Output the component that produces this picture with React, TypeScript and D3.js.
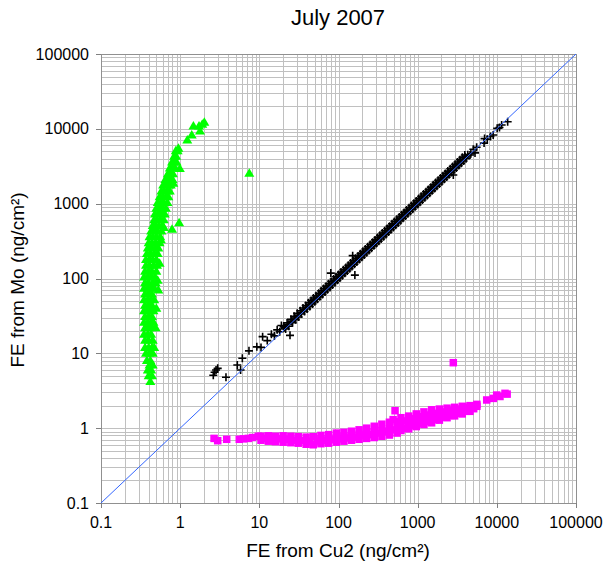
import React from "react";
import * as d3 from "d3";

// Chart text
const chartTitle = "July 2007";
const xAxisTitle = "FE from Cu2 (ng/cm²)";
const yAxisTitle = "FE from Mo (ng/cm²)";
const axisTicks = [0.1, 1, 10, 100, 1000, 10000, 100000];
const axisTickLabels = ["0.1", "1", "10", "100", "1000", "10000", "100000"];

// FE from Mo vs FE from Cu2 (black crosses)
const moVsCu2: [number, number][] = [
  [2.62, 5.1], [2.72, 5.6], [2.84, 6.0], [2.98, 6.3], [3.79, 4.78], [5.27, 6.98], [5.8, 6.0],
  [6.1, 8.6], [7.4, 10.8], [9.3, 12.2], [10.5, 12.0], [11.0, 16.7], [12.6, 14.8], [14.2, 18.0],
  [15.5, 17.1], [16.8, 20.6], [18.1, 19.4], [19.0, 23.5], [24.4, 17.4],
  [20.3, 22.9], [21.5, 21.1], [22.4, 25.5], [23.6, 23.0], [25.1, 28.6], [26.3, 25.7], [27.5, 31.2],
  [28.8, 28.1], [30.1, 34.3], [31.4, 30.6], [32.9, 37.0], [34.0, 33.5], [35.6, 40.3], [37.2, 36.2],
  [38.5, 43.6], [40.1, 39.2], [41.8, 47.5], [43.4, 42.3], [45.1, 51.0], [46.9, 45.8], [48.3, 55.0],
  [50.2, 49.0], [52.0, 58.9], [54.1, 52.8], [56.3, 63.6], [58.0, 56.9], [60.4, 68.4], [62.7, 61.1],
  [64.9, 73.5], [67.5, 65.9], [69.8, 79.0], [72.4, 70.6], [75.0, 85.0], [77.9, 76.0], [80.0, 118],
  [80.8, 91.4], [83.6, 81.7], [86.9, 98.4], [90.2, 88.0], [93.1, 105.4], [96.8, 94.5], [100.2, 113.5],
  [104.0, 101.4], [107.6, 121.8], [111.9, 109.2], [115.4, 130.7], [120.2, 117.3], [124.1, 140.5],
  [128.9, 125.8], [133.0, 150.6], [138.1, 134.8], [142.6, 161.4], [148.0, 144.5], [151, 202],
  [153.2, 173.4], [158.9, 155.1], [161, 111], [164.5, 186.2], [170.6, 166.5], [176.6, 200.0],
  [183.2, 178.8], [189.7, 214.8], [196.5, 191.8], [203.6, 230.5], [211.0, 205.9], [218.4, 247.3],
  [226.3, 220.9], [234.4, 265.3], [242.8, 237.0], [251.5, 284.7], [260.6, 254.3], [269.9, 305.6],
  [279.6, 272.9], [289.6, 327.8], [300.0, 292.8], [310.8, 351.9], [322.0, 314.3], [333.5, 377.5],
  [345.5, 337.2], [357.9, 405.2], [370.8, 361.9], [384.1, 434.8], [397.9, 388.4], [412.2, 466.6],
  [427.0, 416.8], [442.3, 500.7], [458.2, 447.2], [474.6, 537.3], [491.7, 479.9], [509.4, 576.6],
  [527.7, 515.0], [546.6, 618.8], [566.2, 552.6], [586.6, 664.0], [607.6, 593.0], [629.5, 712.6],
  [652.1, 636.4], [675.5, 764.7], [699.8, 683.0], [724.9, 820.6], [751.0, 733.0], [778.0, 880.7],
  [806.0, 786.7], [834.9, 945.1], [865.0, 844.2], [896.0, 1014], [928.3, 906.0], [961.6, 1089],
  [996.2, 972.3], [1032, 1168], [1069, 1043], [1107, 1253], [1147, 1119], [1188, 1345], [1231, 1201],
  [1275, 1443], [1321, 1289], [1368, 1549], [1417, 1383], [1468, 1662], [1521, 1484], [1575, 1783],
  [1632, 1593], [1690, 1913], [1751, 1709], [1814, 2053], [1879, 1834], [1946, 2203], [2016, 1968],
  [2089, 2365], [2164, 2112], [2241, 2537], [2322, 2266], [2405, 2722], [2491, 2431], [2581, 2922],
  [2673, 2609], [2769, 3134], [2820, 2415], [2869, 2800], [2972, 3364], [3079, 3005], [3189, 3610],
  [3304, 3225], [3422, 3874], [3545, 3460], [3673, 4158], [3805, 3714], [3941, 4461], [4083, 3985],
  [4300, 4500], [4580, 4470], [4700, 4650], [5050, 5330], [5300, 4770], [5560, 5670], [6900, 6450],
  [7000, 7400], [7570, 7250], [8300, 7900], [9000, 8280], [10100, 10150], [10800, 10400],
  [11500, 11250], [13700, 12450],
  [20.9, 21.9], [23.0, 24.3], [25.7, 26.9], [28.1, 29.6], [30.7, 32.3], [33.4, 35.0], [36.4, 38.3],
  [39.3, 41.2], [42.6, 44.9], [46.0, 48.1], [49.2, 51.8], [53.0, 55.6], [57.1, 60.2], [61.5, 64.4],
  [66.2, 69.8], [71.1, 74.4], [76.4, 80.5], [82.2, 86.1], [88.5, 93.2], [95.0, 99.5], [102.1, 107.5],
  [109.7, 114.9], [117.8, 124.0], [126.5, 132.6], [135.5, 142.5], [145.3, 152.3], [155.9, 164.0],
  [167.5, 175.4], [179.9, 189.2], [193.1, 202.3], [207.3, 218.0], [222.3, 232.9], [238.6, 250.9],
  [255.9, 268.1], [274.6, 288.7], [294.7, 308.7], [316.3, 332.5], [339.6, 355.8], [364.3, 383.0],
  [390.9, 409.6], [419.5, 441.1], [450.2, 471.6], [483.1, 508.0], [518.5, 543.2], [556.4, 585.1],
  [597.0, 625.4], [640.7, 673.7], [687.5, 720.2], [737.9, 775.9], [792.0, 829.7], [849.9, 893.7],
  [912.1, 955.5], [978.9, 1029], [1050, 1100], [1127, 1185], [1210, 1267], [1298, 1365], [1393, 1459],
  [1495, 1572], [1603, 1680], [1721, 1809], [1847, 1935], [1981, 2083], [2126, 2228], [2281, 2399],
  [2448, 2565], [2627, 2762], [2819, 2953], [3025, 3180], [3246, 3400], [3483, 3662], [3739, 3917],
  [4012, 4218],
];

// Points with low FE from Cu2 (green triangles)
const lowCu2: [number, number][] = [
  [0.42, 4.2], [0.40, 5], [0.44, 5], [0.39, 6], [0.43, 6], [0.41, 7], [0.45, 7], [0.38, 8], [0.42, 8],
  [0.37, 10], [0.41, 10], [0.45, 10], [0.36, 12], [0.40, 12], [0.44, 12], [0.47, 12],
  [0.36, 15], [0.40, 15], [0.45, 15], [0.35, 18], [0.39, 18], [0.43, 18],
  [0.36, 22], [0.40, 22], [0.44, 22], [0.49, 22], [0.35, 26], [0.39, 26], [0.43, 26], [0.46, 26],
  [0.36, 31], [0.40, 31], [0.44, 31], [0.35, 37], [0.38, 37], [0.42, 37], [0.46, 37],
  [0.36, 44], [0.40, 44], [0.44, 44], [0.50, 40], [0.35, 52], [0.39, 52], [0.43, 52], [0.47, 52],
  [0.36, 62], [0.40, 62], [0.44, 62], [0.53, 70], [0.35, 74], [0.39, 74], [0.43, 74], [0.47, 74],
  [0.36, 88], [0.40, 88], [0.45, 88], [0.49, 88], [0.52, 95], [0.35, 105], [0.39, 105], [0.43, 105], [0.48, 105],
  [0.36, 125], [0.40, 125], [0.44, 125], [0.50, 125], [0.37, 150], [0.41, 150], [0.46, 150], [0.51, 150],
  [0.55, 160], [0.37, 180], [0.41, 180], [0.45, 180], [0.50, 180], [0.38, 215], [0.42, 215], [0.47, 215], [0.52, 215],
  [0.39, 255], [0.43, 255], [0.48, 255], [0.53, 255], [0.40, 300], [0.44, 300], [0.49, 300], [0.55, 300],
  [0.57, 330], [0.41, 360], [0.45, 360], [0.50, 360], [0.56, 360], [0.43, 430], [0.47, 430], [0.52, 430], [0.58, 430],
  [0.62, 480], [0.45, 510], [0.49, 510], [0.54, 510], [0.60, 510], [0.47, 610], [0.51, 610], [0.56, 610], [0.62, 610],
  [0.48, 730], [0.53, 730], [0.58, 730], [0.64, 730], [0.50, 870], [0.55, 870], [0.60, 870], [0.66, 870],
  [0.52, 1040], [0.57, 1040], [0.62, 1040], [0.69, 1040], [0.55, 1240], [0.60, 1240], [0.66, 1240], [0.71, 1240],
  [0.58, 1480], [0.63, 1480], [0.69, 1480], [0.74, 1480], [0.61, 1770], [0.66, 1770], [0.72, 1770], [0.76, 1770],
  [0.82, 1870], [0.65, 2110], [0.70, 2110], [0.75, 2110], [0.80, 2110], [0.70, 2520], [0.75, 2520], [0.81, 2520],
  [0.74, 3000], [0.80, 3000], [0.86, 3000], [0.99, 2960], [0.79, 3600], [0.85, 3600], [0.90, 3600],
  [0.84, 4300], [0.89, 4300], [0.88, 5100], [0.93, 5100], [0.95, 5500],
  [0.97, 557], [0.79, 454], [7.47, 2550], [1.23, 7100], [1.40, 8280], [1.47, 10900], [1.73, 10900],
  [1.78, 9360], [1.90, 11500], [2.02, 12200],
];

// Points with low FE from Mo (magenta squares)
const lowMo: [number, number][] = [
  [2.68, 0.73], [2.98, 0.68], [3.87, 0.71], [5.58, 0.71], [6.3, 0.72], [7.25, 0.73], [8.2, 0.75], [9.7, 0.78],
  [10.5, 0.69], [10.5, 0.78], [11.8, 0.73], [13, 0.67], [13, 0.79], [14.5, 0.72], [16, 0.66], [16, 0.78],
  [18, 0.72], [20, 0.65], [20, 0.79], [22.5, 0.71], [25, 0.64], [25, 0.78], [28, 0.69], [31, 0.63], [31, 0.77],
  [35, 0.68], [39, 0.61], [39, 0.76], [43, 0.67], [48, 0.60], [48, 0.77], [54, 0.67],
  [60, 0.62], [60, 0.72], [60, 0.80], [67, 0.68], [75, 0.63], [75, 0.73], [75, 0.82], [84, 0.70],
  [94, 0.65], [94, 0.75], [94, 0.86], [105, 0.72], [117, 0.67], [117, 0.78], [117, 0.88], [131, 0.74],
  [146, 0.69], [146, 0.80], [146, 0.91], [163, 0.76], [182, 0.71], [182, 0.83], [182, 0.95], [203, 0.79],
  [227, 0.73], [227, 0.86], [227, 1.0], [253, 0.82], [283, 0.75], [283, 0.89], [283, 1.06], [316, 0.86],
  [353, 0.78], [353, 0.93], [353, 1.13], [394, 0.90], [440, 0.81], [440, 0.98], [440, 1.2], [490, 0.95],
  [490, 1.3], [518, 1.71], [550, 0.86], [550, 1.05], [550, 1.22], [615, 0.93], [615, 1.13], [615, 1.38],
  [690, 1.0], [690, 1.25], [770, 0.98], [770, 1.2], [770, 1.45], [860, 1.08], [860, 1.34],
  [960, 1.05], [960, 1.28], [960, 1.55], [1070, 1.15], [1070, 1.42], [1200, 1.12], [1200, 1.36], [1200, 1.65],
  [1340, 1.22], [1340, 1.5], [1500, 1.18], [1500, 1.45], [1500, 1.76], [1680, 1.3], [1680, 1.58],
  [1880, 1.28], [1880, 1.52], [1880, 1.8], [2100, 1.4], [2100, 1.65], [2350, 1.38], [2350, 1.6], [2350, 1.85],
  [2620, 1.48], [2620, 1.72], [2820, 7.5], [2930, 1.46], [2930, 1.68], [2930, 1.9], [3280, 1.58], [3280, 1.8],
  [3660, 1.55], [3660, 1.75], [3660, 1.96], [4100, 1.68], [4100, 1.9], [4580, 1.68], [4580, 2.0],
  [5100, 1.82], [5100, 1.98], [5600, 1.96], [5600, 2.08],
  [7450, 2.38], [9020, 2.5], [9960, 2.77], [10960, 2.65], [12680, 2.92], [13500, 2.85],
];

// 1:1 reference line
const unityLine: [number, number][] = [[0.1, 0.1], [100000, 100000]];

const FONT = "'Liberation Sans', Arial, sans-serif";

export default function App() {
  const width = 605;
  const height = 575;
  const plot = { left: 101, right: 576, top: 54, bottom: 503 };

  const x = d3.scaleLog().domain([0.1, 100000]).range([plot.left, plot.right]);
  const y = d3.scaleLog().domain([0.1, 100000]).range([plot.bottom, plot.top]);

  const gridX = x.ticks();
  const gridY = y.ticks();
  const crisp = (v: number) => Math.round(v) + 0.5;
  const line = d3.line<[number, number]>().x((d) => x(d[0])).y((d) => y(d[1]));

  return (
    <svg
      width={width}
      height={height}
      style={{ position: "absolute", left: 0, top: 0, background: "#fff" }}
      fontFamily={FONT}
    >
      <rect x={0} y={0} width={width} height={height} fill="#fff" />

      {/* gridlines */}
      <g stroke="#c0c0c0" strokeWidth={1}>
        {gridX.map((v, i) => (
          <line key={"gx" + i} x1={crisp(x(v))} x2={crisp(x(v))} y1={plot.top} y2={plot.bottom} />
        ))}
        {gridY.map((v, i) => (
          <line key={"gy" + i} y1={crisp(y(v))} y2={crisp(y(v))} x1={plot.left} x2={plot.right} />
        ))}
      </g>

      {/* plot frame */}
      <rect
        x={crisp(plot.left)}
        y={crisp(plot.top)}
        width={Math.round(plot.right - plot.left)}
        height={Math.round(plot.bottom - plot.top)}
        fill="none"
        stroke="#909090"
        strokeWidth={1}
      />

      {/* axis ticks */}
      <g stroke="#808080" strokeWidth={1}>
        {axisTicks.map((v, i) => (
          <line key={"ty" + i} x1={plot.left - 5} x2={plot.left} y1={crisp(y(v))} y2={crisp(y(v))} />
        ))}
        {axisTicks.map((v, i) => (
          <line key={"tx" + i} y1={plot.bottom} y2={plot.bottom + 5} x1={crisp(x(v))} x2={crisp(x(v))} />
        ))}
      </g>

      {/* black crosses */}
      <g stroke="#000" strokeWidth={1.6} fill="none">
        {moVsCu2.map((d, i) => (
          <path
            key={"c" + i}
            transform={`translate(${x(d[0])},${y(d[1])})`}
            d="M-4,0H4M0,-4V4"
          />
        ))}
      </g>

      {/* green triangles */}
      <g fill="#00ff00">
        {lowCu2.map((d, i) => (
          <path
            key={"t" + i}
            transform={`translate(${x(d[0])},${y(d[1])})`}
            d="M0,-5L5,3.5L-5,3.5Z"
          />
        ))}
      </g>

      {/* magenta squares */}
      <g fill="#ff00ff">
        {lowMo.map((d, i) => (
          <rect key={"s" + i} x={x(d[0]) - 3.75} y={y(d[1]) - 3.75} width={7.5} height={7.5} />
        ))}
      </g>

      {/* 1:1 line */}
      <path d={line(unityLine) || ""} stroke="#3366ff" strokeWidth={1} fill="none" />

      {/* tick labels */}
      <g fontSize={16} fill="#000">
        {axisTicks.map((v, i) => (
          <text key={"ly" + i} x={89} y={y(v)} dy="0.35em" textAnchor="end">
            {axisTickLabels[i]}
          </text>
        ))}
        {axisTicks.map((v, i) => (
          <text key={"lx" + i} x={x(v)} y={528} textAnchor="middle">
            {axisTickLabels[i]}
          </text>
        ))}
      </g>

      {/* titles */}
      <text x={338} y={25} textAnchor="middle" fontSize={22} fill="#000">
        {chartTitle}
      </text>
      <text x={338} y={557} textAnchor="middle" fontSize={19} fill="#000">
        {xAxisTitle}
      </text>
      <text
        transform={`translate(24,280) rotate(-90)`}
        textAnchor="middle"
        fontSize={19}
        fill="#000"
      >
        {yAxisTitle}
      </text>
    </svg>
  );
}
